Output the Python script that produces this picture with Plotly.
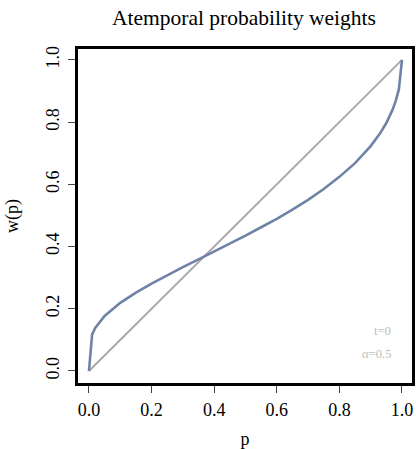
import plotly.graph_objects as go

# probability grid and weights (alpha = 0.5, t = 0)
p_values = [0.0, 0.01, 0.02, 0.05, 0.10, 0.15, 0.20, 0.25, 0.30, 0.35, 0.40, 0.45,
            0.50, 0.55, 0.60, 0.65, 0.70, 0.75, 0.80, 0.85, 0.90, 0.93, 0.95,
            0.97, 0.98, 0.99, 1.0]
w_values = [0.0, 0.117, 0.138, 0.177, 0.219, 0.252, 0.281, 0.308, 0.334, 0.359,
            0.384, 0.409, 0.435, 0.462, 0.489, 0.519, 0.550, 0.585, 0.624, 0.668,
            0.723, 0.764, 0.797, 0.840, 0.868, 0.905, 1.0]
diag_p = [0.0, 1.0]
diag_w = [0.0, 1.0]
tick_vals = [0.0, 0.2, 0.4, 0.6, 0.8, 1.0]
tick_text = ["0.0", "0.2", "0.4", "0.6", "0.8", "1.0"]

FONT = "Liberation Serif"

fig = go.Figure()
fig.add_trace(go.Scatter(x=diag_p, y=diag_w, mode="lines",
                         line=dict(color="#aaaaaa", width=2), showlegend=False))
fig.add_trace(go.Scatter(x=p_values, y=w_values, mode="lines",
                         line=dict(color="#6f83a7", width=2.6), showlegend=False))

fig.add_annotation(x=0.972, y=0.128, xref="x", yref="y", text="t=0", showarrow=False,
                   xanchor="right", yanchor="middle",
                   font=dict(family=FONT, size=12.6, color="#bdbdbd"))
fig.add_annotation(x=0.972, y=0.054, xref="x", yref="y", text="α=0.5", showarrow=False,
                   xanchor="right", yanchor="middle",
                   font=dict(family=FONT, size=12.6, color="#bdbdbd"))

axis_common = dict(showgrid=False, zeroline=False,
                   showline=True, linecolor="black", linewidth=3, mirror=True,
                   ticks="outside", ticklen=7, tickwidth=1, tickcolor="#444444",
                   tickvals=tick_vals, ticktext=tick_text, automargin=False,
                   tickfont=dict(family=FONT, size=18, color="black"))

fig.update_layout(
    width=416, height=449,
    margin=dict(l=78, r=4, t=49, b=66),
    paper_bgcolor="white", plot_bgcolor="white",
    title=dict(text="Atemporal probability weights", x=0.5865, xanchor="center",
               xref="container", y=0.962, yanchor="middle", yref="container",
               automargin=False,
               font=dict(family=FONT, size=21.5, color="black")),
    xaxis=dict(**axis_common, range=[-0.035, 1.032], ticklabelstandoff=1,
               title=dict(text="p", standoff=17,
                          font=dict(family=FONT, size=18, color="black"))),
    yaxis=dict(**axis_common, range=[-0.0386, 1.035], tickangle=-90, ticklabelstandoff=2,
               title=dict(text="w(p)", standoff=20,
                          font=dict(family=FONT, size=18, color="black"))),
)

fig.write_html("out.html", config={"displayModeBar": False},
               post_script="document.body.style.margin='0';document.body.style.overflow='hidden';")
